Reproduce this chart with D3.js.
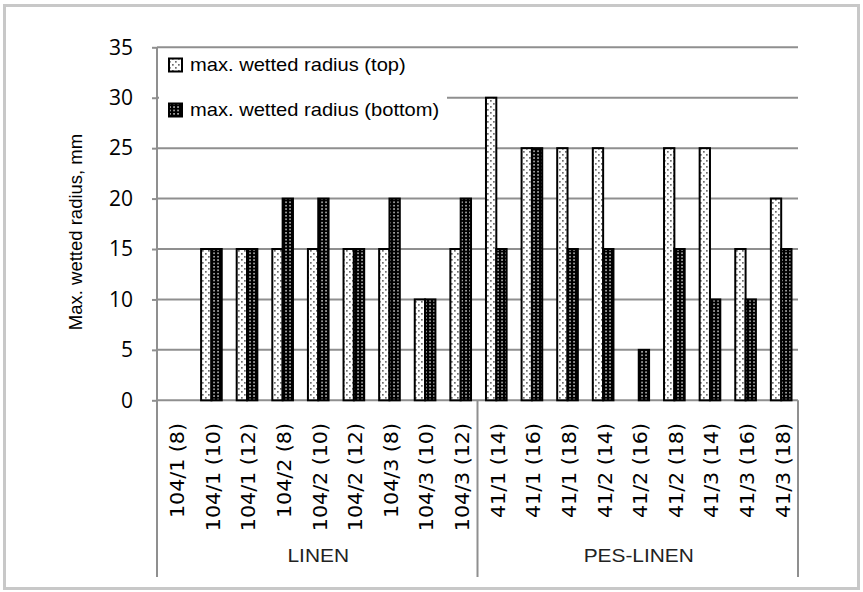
<!DOCTYPE html>
<html>
<head>
<meta charset="utf-8">
<script src="https://cdn.jsdelivr.net/npm/d3@7"></script>
<style>
  html, body { margin: 0; padding: 0; background: #fff; }
  svg { display: block; }
</style>
</head>
<body>
<svg id="chart" width="863" height="592"></svg>
<script>
const categories = ["104/1 (8)","104/1 (10)","104/1 (12)","104/2 (8)","104/2 (10)","104/2 (12)","104/3 (8)","104/3 (10)","104/3 (12)",
                    "41/1 (14)","41/1 (16)","41/1 (18)","41/2 (14)","41/2 (16)","41/2 (18)","41/3 (14)","41/3 (16)","41/3 (18)"];
const groups = [{name:"LINEN", from:0, to:9}, {name:"PES-LINEN", from:9, to:18}];
const topValues    = [0,15,15,15,15,15,15,10,15, 30,25,25,25,0,25,25,15,20];
const bottomValues = [0,15,15,20,20,15,20,10,20, 15,25,15,15,5,15,10,10,15];
const seriesNames = ["max. wetted radius (top)", "max. wetted radius (bottom)"];
const yTicks = [0,5,10,15,20,25,30,35];
const yTitle = "Max. wetted radius, mm";

(function(){
const svg = d3.select("#chart");
const defs = svg.append("defs");

// patterns
const pTop = defs.append("pattern").attr("id","pTop").attr("patternUnits","userSpaceOnUse")
  .attr("width",6).attr("height",6);
pTop.append("rect").attr("width",6).attr("height",6).attr("fill","#fff");
pTop.append("rect").attr("x",1).attr("y",1).attr("width",1.7).attr("height",1.7).attr("fill","#6e6e6e");
pTop.append("rect").attr("x",4).attr("y",4).attr("width",1.7).attr("height",1.7).attr("fill","#6e6e6e");

const pBot = defs.append("pattern").attr("id","pBot").attr("patternUnits","userSpaceOnUse")
  .attr("width",4).attr("height",3.4);
pBot.append("rect").attr("width",4).attr("height",3.4).attr("fill","#000");
pBot.append("rect").attr("x",1.2).attr("y",0.9).attr("width",1.7).attr("height",1.5).attr("fill","#bdbdbd");

// frame
svg.append("rect").attr("x",4.5).attr("y",5.5).attr("width",854).attr("height",583)
  .attr("fill","#fff").attr("stroke","#c8c8c8").attr("stroke-width",3);

const pLeft = 157, pRight = 798, pTop2 = 47.3, pBottom = 400.3, axisBottom = 577;
const x = d3.scaleBand().domain(d3.range(categories.length)).range([pLeft, pRight]).paddingInner(0).paddingOuter(0);
const y = d3.scaleLinear().domain([0,35]).range([pBottom, pTop2]);

const gridColor = "#8f8f8f";

// gridlines
svg.append("g").selectAll("line").data(yTicks).join("line")
  .attr("x1", pLeft).attr("x2", pRight)
  .attr("y1", d => y(d)).attr("y2", d => y(d))
  .attr("stroke", gridColor).attr("stroke-width", 2);

// y axis with D3
const yAxis = d3.axisLeft(y).tickValues(yTicks).tickSize(5).tickPadding(19).tickFormat(d3.format("d"));
const gy = svg.append("g").attr("transform", `translate(${pLeft},0)`).call(yAxis);
gy.select(".domain").remove();
gy.selectAll(".tick line").attr("stroke", gridColor).attr("stroke-width", 2);
gy.selectAll(".tick text").attr("font-family","'Open Sans', sans-serif").attr("font-size", 21)
  .attr("fill","#000");
svg.append("line").attr("x1",pLeft).attr("x2",pLeft).attr("y1",pTop2).attr("y2",axisBottom)
  .attr("stroke",gridColor).attr("stroke-width",2);

// group separators
const sepX = [groups[0].to, groups[1].to].map(i => i >= categories.length ? pRight : x(i));
svg.append("g").selectAll("line").data(sepX).join("line")
  .attr("x1", d => d).attr("x2", d => d).attr("y1", pBottom).attr("y2", axisBottom)
  .attr("stroke", gridColor).attr("stroke-width", 2);

// bars
const bw = x.bandwidth() * 0.29;
const data = categories.map((c,i) => ({i, t: topValues[i], b: bottomValues[i]}));
const gBars = svg.append("g");
data.forEach(d => {
  const cx = x(d.i) + x.bandwidth()/2 + 1;
  if (d.t > 0) {
    gBars.append("rect").attr("x", cx - bw).attr("y", y(d.t)).attr("width", bw).attr("height", y(0) - y(d.t))
      .attr("fill","url(#pTop)").attr("stroke","#000").attr("stroke-width",2);
  }
  if (d.b > 0) {
    gBars.append("rect").attr("x", cx).attr("y", y(d.b)).attr("width", bw).attr("height", y(0) - y(d.b))
      .attr("fill","url(#pBot)").attr("stroke","#000").attr("stroke-width",2);
  }
});

// category labels
svg.append("g").selectAll("text").data(categories).join("text")
  .attr("transform", (d,i) => `translate(${x(i) + x.bandwidth()/2 + 2.5},423) rotate(-90) scale(1.03,1)`)
  .attr("text-anchor","end").attr("dominant-baseline","central")
  .attr("font-family","'DejaVu Sans', sans-serif").attr("font-size", 20).attr("fill","#000")
  .text(d => d);

// group labels
svg.append("g").selectAll("text").data(groups).join("text")
  .attr("transform", d => `translate(${(x(d.from) + (d.to >= categories.length ? pRight : x(d.to)))/2 + 1},562) scale(1.13,1)`)
  .attr("text-anchor","middle")
  .attr("font-family","'Liberation Sans', Arial, sans-serif").attr("font-size", 18.5).attr("fill","#222")
  .text(d => d.name);

// y title
svg.append("text").attr("transform","translate(75,232) rotate(-90)")
  .attr("text-anchor","middle").attr("dominant-baseline","central")
  .attr("font-family","'Liberation Sans', Arial, sans-serif").attr("font-size", 18.5).attr("fill","#000")
  .text(yTitle);

// legend
const lg = svg.append("g");
lg.append("rect").attr("x",159).attr("y",52).attr("width",288).attr("height",72).attr("fill","#fff");
const legendY = [65, 110];
const fills = ["url(#pTop)","url(#pBot)"];
seriesNames.forEach((n,k) => {
  lg.append("rect").attr("x",169).attr("y",legendY[k]-6.5).attr("width",13).attr("height",13)
    .attr("fill",fills[k]).attr("stroke","#000").attr("stroke-width",2);
  lg.append("text").attr("transform",`translate(190,${legendY[k]}) scale(1.15,1)`)
    .attr("dominant-baseline","central")
    .attr("font-family","'Liberation Sans', Arial, sans-serif").attr("font-size", 17.5).attr("fill","#000")
    .text(n);
});
})();
</script>
</body>
</html>
